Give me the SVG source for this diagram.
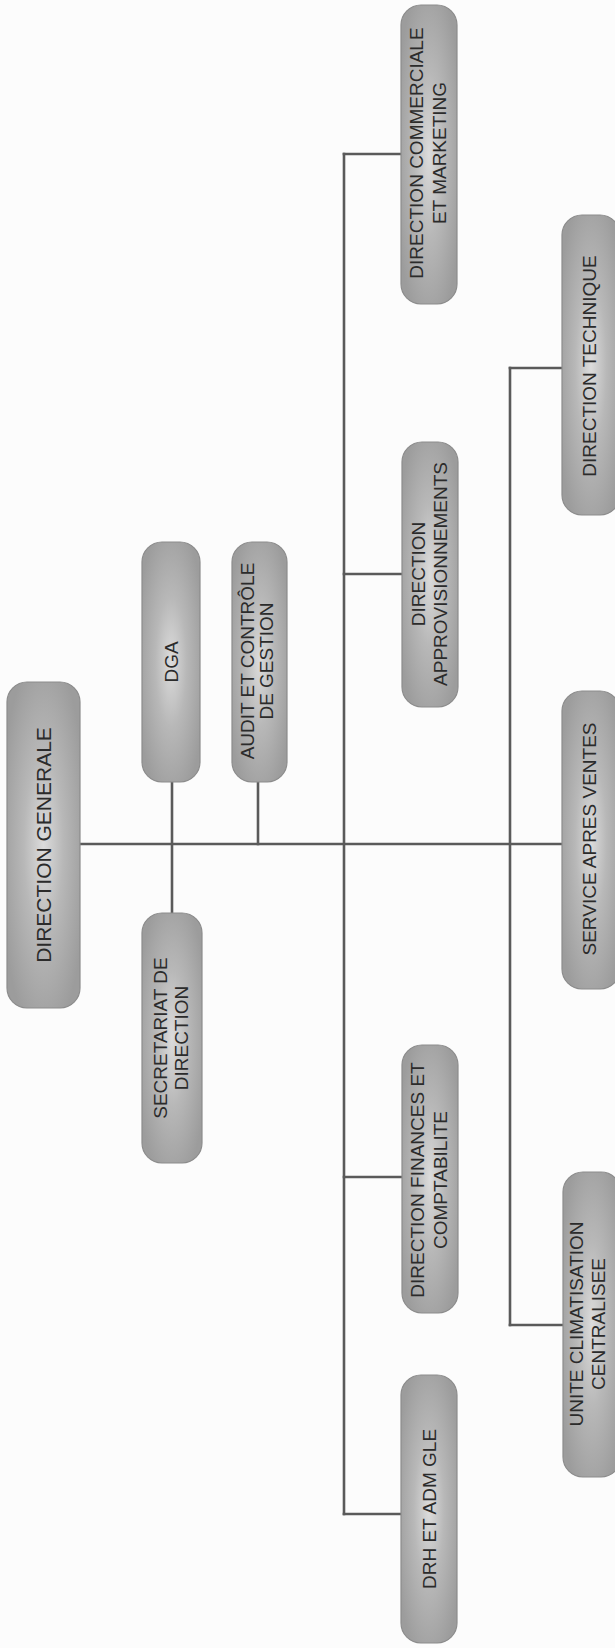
<svg xmlns="http://www.w3.org/2000/svg" width="615" height="1648" viewBox="0 0 615 1648">
<defs>
<radialGradient id="boxfill" cx="0.5" cy="0.5" r="0.6">
<stop offset="0" stop-color="#dcdcdc"/>
<stop offset="0.45" stop-color="#b8b8b8"/>
<stop offset="1" stop-color="#9c9c9c"/>
</radialGradient>
</defs>
<style>
.box{fill:url(#boxfill);stroke:#8c8c8c;stroke-width:1.2}
.lbl{font-family:"Liberation Sans",Arial,sans-serif;font-size:19px;fill:#2b2b2b;text-anchor:middle}
.big{font-size:21px}
.conn{stroke:#5a5a5a;stroke-width:2.6;fill:none;stroke-linecap:square}
</style>
<rect x="0" y="0" width="615" height="1648" fill="#fcfcfc"/>
<g id="connectors">
<path class="conn" d="M80 844 H562"/>
<path class="conn" d="M172 782 V913"/>
<path class="conn" d="M258 782 V844"/>
<path class="conn" d="M344 154 V1514"/>
<path class="conn" d="M344 154 H401"/>
<path class="conn" d="M344 574 H402"/>
<path class="conn" d="M344 1177 H402"/>
<path class="conn" d="M344 1514 H401"/>
<path class="conn" d="M510 368 V1325"/>
<path class="conn" d="M510 368 H562"/>
<path class="conn" d="M510 1325 H563"/>
</g>
<g id="n-dg">
<rect class="box" x="7" y="682" width="73" height="326" rx="20"/>
<text class="lbl big" transform="translate(43.5,845) rotate(-90)" y="7.5">DIRECTION GENERALE</text>
</g>
<g id="n-dga">
<rect class="box" x="142" y="542" width="58" height="240" rx="20"/>
<text class="lbl" transform="translate(171,662) rotate(-90)" y="7">DGA</text>
</g>
<g id="n-audit">
<rect class="box" x="232" y="542" width="55" height="240" rx="20"/>
<text class="lbl" transform="translate(259.5,661) rotate(-90)"><tspan x="0" y="-6">AUDIT ET CONTRÔLE</tspan><tspan x="0" y="13">DE GESTION</tspan></text>
</g>
<g id="n-secretariat">
<rect class="box" x="142" y="913" width="60" height="250" rx="20"/>
<text class="lbl" transform="translate(172,1038) rotate(-90)"><tspan x="0" y="-5">SECRETARIAT DE</tspan><tspan x="0" y="16">DIRECTION</tspan></text>
</g>
<g id="n-commerciale">
<rect class="box" x="401" y="5" width="56" height="299" rx="20"/>
<text class="lbl" transform="translate(429,153) rotate(-90)"><tspan x="0" y="-6">DIRECTION COMMERCIALE</tspan><tspan x="0" y="17">ET MARKETING</tspan></text>
</g>
<g id="n-appro">
<rect class="box" x="402" y="442" width="56" height="265" rx="20"/>
<text class="lbl" transform="translate(430,574) rotate(-90)"><tspan x="0" y="-5">DIRECTION</tspan><tspan x="0" y="17">APPROVISIONNEMENTS</tspan></text>
</g>
<g id="n-finances">
<rect class="box" x="402" y="1045" width="56" height="268" rx="20"/>
<text class="lbl" transform="translate(430,1180) rotate(-90)"><tspan x="0" y="-6">DIRECTION FINANCES ET</tspan><tspan x="0" y="17">COMPTABILITE</tspan></text>
</g>
<g id="n-drh">
<rect class="box" x="401" y="1375" width="56" height="268" rx="20"/>
<text class="lbl" transform="translate(429,1509) rotate(-90)" y="7">DRH ET ADM GLE</text>
</g>
<g id="n-technique">
<rect class="box" x="562" y="215" width="58" height="300" rx="20"/>
<text class="lbl" transform="translate(589,366) rotate(-90)" y="7">DIRECTION TECHNIQUE</text>
</g>
<g id="n-sav">
<rect class="box" x="562" y="691" width="58" height="298" rx="20"/>
<text class="lbl" transform="translate(589,839) rotate(-90)" y="7">SERVICE APRES VENTES</text>
</g>
<g id="n-climatisation">
<rect class="box" x="563" y="1172" width="58" height="305" rx="20"/>
<text class="lbl" transform="translate(590,1324) rotate(-90)"><tspan x="0" y="-7">UNITE CLIMATISATION</tspan><tspan x="0" y="15">CENTRALISEE</tspan></text>
</g>
</svg>
